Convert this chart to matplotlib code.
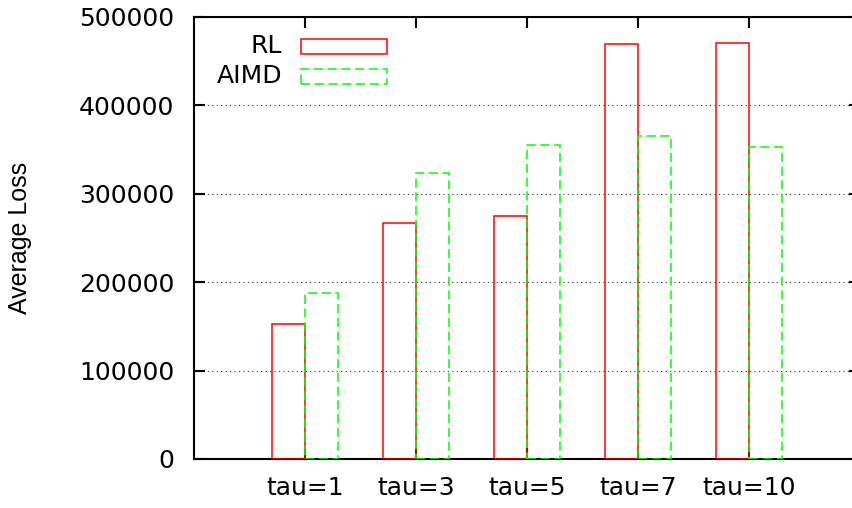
import numpy as np
import matplotlib
matplotlib.use("Agg")
import matplotlib.pyplot as plt
from matplotlib.patches import Rectangle

# values
categories = ["tau=1", "tau=3", "tau=5", "tau=7", "tau=10"]
rl_loss = [153000, 267000, 275000, 469000, 470500]
aimd_loss = [187800, 324000, 355500, 365800, 352500]
yticks = [0, 100000, 200000, 300000, 400000, 500000]

# the reference text is wide, DejaVu Sans gets closest to its size
plt.rcParams["font.family"] = ["DejaVu Sans"]
plt.rcParams["font.size"] = 18

W, H = 852, 508
fig = plt.figure(figsize=(W / 100, H / 100), dpi=100)
# right axis sits just outside the picture, as in the reference
ax = fig.add_axes([194 / W, 1 - 459 / H, (860 - 194) / W, (459 - 17) / H])

x = np.arange(len(categories))
bw = 0.3
ax.bar(x - bw, rl_loss, width=bw, align="edge", fill=False,
       edgecolor="#ff0000", linewidth=1.1, zorder=3)
ax.bar(x, aimd_loss, width=bw, align="edge", fill=False,
       edgecolor="#00ff00", linewidth=1.1, linestyle=(0, (6, 3)), zorder=3)

ax.set_xlim(-1, 5)
ax.set_ylim(0, 500000)
ax.set_xticks(x)
ax.set_xticklabels(categories)
ax.set_yticks(yticks)
ax.set_yticklabels([str(v) for v in yticks])

ax.yaxis.grid(True, color="#333333", linestyle=(0, (1, 3)), linewidth=0.8)
ax.set_axisbelow(True)

for s in ax.spines.values():
    s.set_linewidth(1.5)
ax.tick_params(axis="both", direction="in", length=8, width=1.5,
               top=True, right=True, colors="black")
ax.tick_params(axis="y", pad=14)
ax.tick_params(axis="x", pad=12)

fig.text(20 / W, 1 - 238 / H, "Average Loss", rotation=90,
         ha="center", va="center", fontsize=18, family="Liberation Sans")

# legend drawn gnuplot style: label on the left, open box sample on the right
legend_items = [("RL", "#ff0000", "-", 46), ("AIMD", "#00ff00", (0, (6, 3)), 76)]
for label, col, ls, yc in legend_items:
    fig.text(282 / W, 1 - yc / H, label, ha="right", va="center", fontsize=18)
    fig.add_artist(Rectangle((301 / W, 1 - (yc + 7.5) / H), 86 / W, 15 / H,
                             transform=fig.transFigure, fill=False,
                             edgecolor=col, linewidth=1.1, linestyle=ls))

fig.savefig("out.png", dpi=100)
